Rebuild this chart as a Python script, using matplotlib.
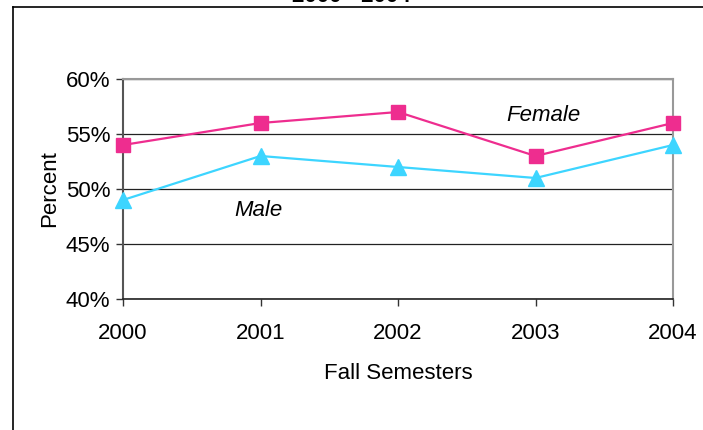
import matplotlib.pyplot as plt
from matplotlib.lines import Line2D
from matplotlib.ticker import FuncFormatter

plt.rcParams['font.family'] = ['Liberation Sans', 'DejaVu Sans']

years = ['2000', '2001', '2002', '2003', '2004']
female = [54, 56, 57, 53, 56]
male = [49, 53, 52, 51, 54]
pink = '#EE2D8F'
cyan = '#3DD5FF'

fig = plt.figure(figsize=(7.03, 4.30), dpi=100)
ax = fig.add_axes([123/703, 1 - 299/430, 550/703, 220/430])

x = list(range(len(years)))
ax.plot(x, female, color=pink, lw=1.6, marker='s', ms=10, mec=pink, clip_on=False, zorder=3)
ax.plot(x, male, color=cyan, lw=1.6, marker='^', ms=11, mec=cyan, clip_on=False, zorder=3)

ax.set_xlim(0, 4)
ax.set_ylim(40, 60)
ax.set_yticks([40, 45, 50, 55, 60])
ax.yaxis.set_major_formatter(FuncFormatter(lambda v, p: '%d%%' % v))
ax.set_xticks(x)
ax.set_xticklabels(years)
ax.grid(axis='y', color='#222222', lw=0.9)
ax.set_axisbelow(True)

for s in ['top', 'right']:
    ax.spines[s].set_color('#999999')
    ax.spines[s].set_linewidth(1.5)
ax.spines['left'].set_color('#555555')
ax.spines['left'].set_linewidth(1.5)
ax.spines['bottom'].set_color('#222222')
ax.spines['bottom'].set_linewidth(1.2)
ax.tick_params(axis='both', labelsize=16, direction='out', length=5, width=1, color='#333333')
ax.tick_params(axis='x', pad=12)
ax.tick_params(axis='y', pad=4)

ax.set_xlabel('Fall Semesters', fontsize=16, labelpad=14)
ax.set_ylabel('Percent', fontsize=16, labelpad=4)

ax.text(2.79, 56.7, 'Female', fontsize=16, style='italic', ha='left', va='center')
ax.text(0.81, 48.0, 'Male', fontsize=16, style='italic', ha='left', va='center')

fig.text(0.5, 1 - 2/430, '2000 - 2004', fontsize=16, fontweight='bold', ha='center', va='baseline')

fig.add_artist(Line2D([13/703, 13/703], [0, 1 - 7/430], color='black', lw=1.2, transform=fig.transFigure))
fig.add_artist(Line2D([13/703, 1], [1 - 7/430, 1 - 7/430], color='black', lw=1.2, transform=fig.transFigure))

fig.savefig('out.png', dpi=100)
